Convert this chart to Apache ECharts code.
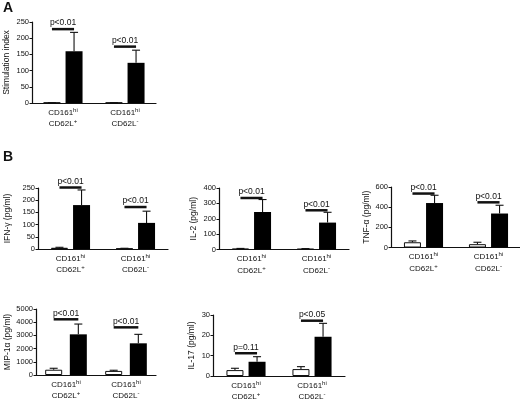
<!DOCTYPE html>
<html>
<head>
<meta charset="utf-8">
<script src="https://cdn.jsdelivr.net/npm/echarts@6/dist/echarts.min.js"></script>
<style>
  html, body { margin: 0; background: #fff; }
  #chart { width: 520px; height: 404px; }
</style>
</head>
<body>
<div id="chart"></div>
<script>
// cell subsets on every x axis (all are CD161hi)
var groups = ['CD62L+', 'CD62L-'];

// A - stimulation index
var stimTicks = [0, 50, 100, 150, 200, 250];
var stimOpen = [1, 1], stimOpenSem = [0, 0];
var stimFilled = [160, 124], stimFilledSem = [58, 39];
var stimSig = [228, 174], stimP = ['p<0.01', 'p<0.01'];

// B - IFN-g
var ifnTicks = [0, 50, 100, 150, 200, 250];
var ifnOpen = [5, 2], ifnOpenSem = [2, 1];
var ifnFilled = [180, 107], ifnFilledSem = [62, 48];
var ifnSig = [252, 172], ifnP = ['p<0.01', 'p<0.01'];

// B - IL-2
var il2Ticks = [0, 100, 200, 300, 400];
var il2Open = [5, 4], il2OpenSem = [2, 2];
var il2Filled = [244, 175], il2FilledSem = [81, 67];
var il2Sig = [335, 255], il2P = ['p<0.01', 'p<0.01'];

// B - TNF-a
var tnfTicks = [0, 200, 400, 600];
var tnfOpen = [52, 33], tnfOpenSem = [13, 19];
var tnfFilled = [441, 337], tnfFilledSem = [77, 82];
var tnfSig = [535, 448], tnfP = ['p<0.01', 'p<0.01'];

// B - MIP-1a
var mipTicks = [0, 1000, 2000, 3000, 4000, 5000];
var mipOpen = [400, 310], mipOpenSem = [110, 50];
var mipFilled = [3080, 2400], mipFilledSem = [780, 680];
var mipSig = [4220, 3610], mipP = ['p<0.01', 'p<0.01'];

// B - IL-17
var il17Ticks = [0, 10, 20, 30];
var il17Open = [2.9, 3.4], il17OpenSem = [0.9, 1.2];
var il17Filled = [7.0, 19.3], il17FilledSem = [2.5, 6.6];
var il17Sig = [11.2, 27.2], il17P = ['p=0.11', 'p<0.05'];

var panels = [
  { name: 'Stimulation index', ticks: stimTicks, open: stimOpen, openSem: stimOpenSem, filled: stimFilled, filledSem: stimFilledSem, sig: stimSig, p: stimP,
    box: { left: 32, top: 22, width: 124, height: 81 }, gap: 21, barGap: 0.3 },
  { name: 'IFN-\u03b3 (pg/ml)', ticks: ifnTicks, open: ifnOpen, openSem: ifnOpenSem, filled: ifnFilled, filledSem: ifnFilledSem, sig: ifnSig, p: ifnP,
    box: { left: 38, top: 188, width: 130, height: 61 }, gap: 26, barGap: 0.3 },
  { name: 'IL-2 (pg/ml)', ticks: il2Ticks, open: il2Open, openSem: il2OpenSem, filled: il2Filled, filledSem: il2FilledSem, sig: il2Sig, p: il2P,
    box: { left: 219, top: 188, width: 130, height: 61.5 }, gap: 21, barGap: 0.3 },
  { name: 'TNF-\u03b1 (pg/ml)', ticks: tnfTicks, open: tnfOpen, openSem: tnfOpenSem, filled: tnfFilled, filledSem: tnfFilledSem, sig: tnfSig, p: tnfP,
    box: { left: 391, top: 187, width: 130, height: 60.5 }, gap: 20, barGap: 0.3 },
  { name: 'MIP-1\u03b1 (pg/ml)', ticks: mipTicks, open: mipOpen, openSem: mipOpenSem, filled: mipFilled, filledSem: mipFilledSem, sig: mipSig, p: mipP,
    box: { left: 36, top: 309, width: 120, height: 66 }, gap: 23, barGap: 0.45 },
  { name: 'IL-17 (pg/ml)', ticks: il17Ticks, open: il17Open, openSem: il17OpenSem, filled: il17Filled, filledSem: il17FilledSem, sig: il17Sig, p: il17P,
    box: { left: 213, top: 315, width: 132, height: 61 }, gap: 17, barGap: 0.3 }
];

var BAR_W = 17;
var INK = '#111';
var FONT = 'Liberation Sans, Arial, sans-serif';

// error bar (upper only) drawn at the bar centre
function errorItem(offset) {
  return function (params, api) {
    var base = api.coord([api.value(0), api.value(1)]);
    var top = api.coord([api.value(0), api.value(1) + api.value(2)]);
    var x = base[0] + offset;
    return {
      type: 'group',
      children: [
        { type: 'line', shape: { x1: x, y1: base[1], x2: x, y2: top[1] }, style: { stroke: INK, lineWidth: 1.1 } },
        { type: 'line', shape: { x1: x - 4, y1: top[1], x2: x + 4, y2: top[1] }, style: { stroke: INK, lineWidth: 1.1 } }
      ]
    };
  };
}

// significance bar from open bar centre to filled bar centre, with p label
function sigItem(offset, labels) {
  return function (params, api) {
    var pt = api.coord([api.value(0), api.value(1)]);
    return {
      type: 'group',
      children: [
        { type: 'line', shape: { x1: pt[0] - offset, y1: pt[1], x2: pt[0] + offset, y2: pt[1] },
          style: { stroke: INK, lineWidth: 2.5 } },
        { type: 'text', x: pt[0], y: pt[1] - 1.5,
          style: { text: labels[params.dataIndex], fill: INK, fontSize: 8.5, fontFamily: FONT,
                   align: 'center', verticalAlign: 'bottom' } }
      ]
    };
  };
}

function pairs(vals, extra) {
  return vals.map(function (v, i) { return extra ? [i, v, extra[i]] : [i, v]; });
}

var grid = [], xAxis = [], yAxis = [], series = [];

panels.forEach(function (p, k) {
  var off = (BAR_W + BAR_W * p.barGap) / 2;
  grid.push({ left: p.box.left, top: p.box.top, width: p.box.width, height: p.box.height, outerBoundsMode: 'none' });
  xAxis.push({
    type: 'category', gridIndex: k, data: groups, boundaryGap: true,
    axisLine: { lineStyle: { color: INK, width: 1.2 } },
    axisTick: { alignWithLabel: true, length: 2, lineStyle: { color: INK } },
    axisLabel: {
      margin: 4, interval: 0,
      formatter: function (v) {
        return '{a|CD161}{s|hi}\n{a|CD62L}{s|' + v.slice(5) + '}';
      },
      rich: {
        a: { fontSize: 8, lineHeight: 11.5, color: INK },
        s: { fontSize: 6, lineHeight: 6, verticalAlign: 'top', color: INK }
      }
    }
  });
  yAxis.push({
    type: 'value', gridIndex: k,
    min: p.ticks[0], max: p.ticks[p.ticks.length - 1], interval: p.ticks[1] - p.ticks[0],
    name: p.name, nameLocation: 'middle', nameRotate: 90, nameGap: p.gap,
    nameTextStyle: { fontSize: 8.5, color: INK },
    splitLine: { show: false },
    axisLine: { show: true, lineStyle: { color: INK, width: 1.2 } },
    axisTick: { show: true, length: 2.5, lineStyle: { color: INK } },
    axisLabel: { fontSize: 7.5, margin: 3, color: INK, formatter: function (v) { return String(v); } }
  });
  series.push({
    type: 'bar', xAxisIndex: k, yAxisIndex: k, data: p.open,
    barWidth: BAR_W, barGap: (p.barGap * 100) + '%',
    itemStyle: { color: '#fff', borderColor: INK, borderWidth: 1 }
  });
  series.push({
    type: 'bar', xAxisIndex: k, yAxisIndex: k, data: p.filled,
    barWidth: BAR_W, barGap: (p.barGap * 100) + '%',
    itemStyle: { color: '#000' }
  });
  series.push({
    type: 'custom', xAxisIndex: k, yAxisIndex: k, clip: false, z: 3,
    data: pairs(p.open, p.openSem), renderItem: errorItem(-off)
  });
  series.push({
    type: 'custom', xAxisIndex: k, yAxisIndex: k, clip: false, z: 3,
    data: pairs(p.filled, p.filledSem), renderItem: errorItem(off)
  });
  series.push({
    type: 'custom', xAxisIndex: k, yAxisIndex: k, clip: false, z: 4,
    data: pairs(p.sig), renderItem: sigItem(off, p.p)
  });
});

var chart = echarts.init(document.getElementById('chart'), null, { renderer: 'canvas' });
chart.setOption({
  backgroundColor: '#fff',
  animation: false,
  textStyle: { fontFamily: FONT },
  graphic: [
    { type: 'text', left: 3, top: 1, style: { text: 'A', fontSize: 14, fontWeight: 'bold', fill: INK } },
    { type: 'text', left: 3, top: 150, style: { text: 'B', fontSize: 14, fontWeight: 'bold', fill: INK } }
  ],
  grid: grid,
  xAxis: xAxis,
  yAxis: yAxis,
  series: series
});
</script>
</body>
</html>
